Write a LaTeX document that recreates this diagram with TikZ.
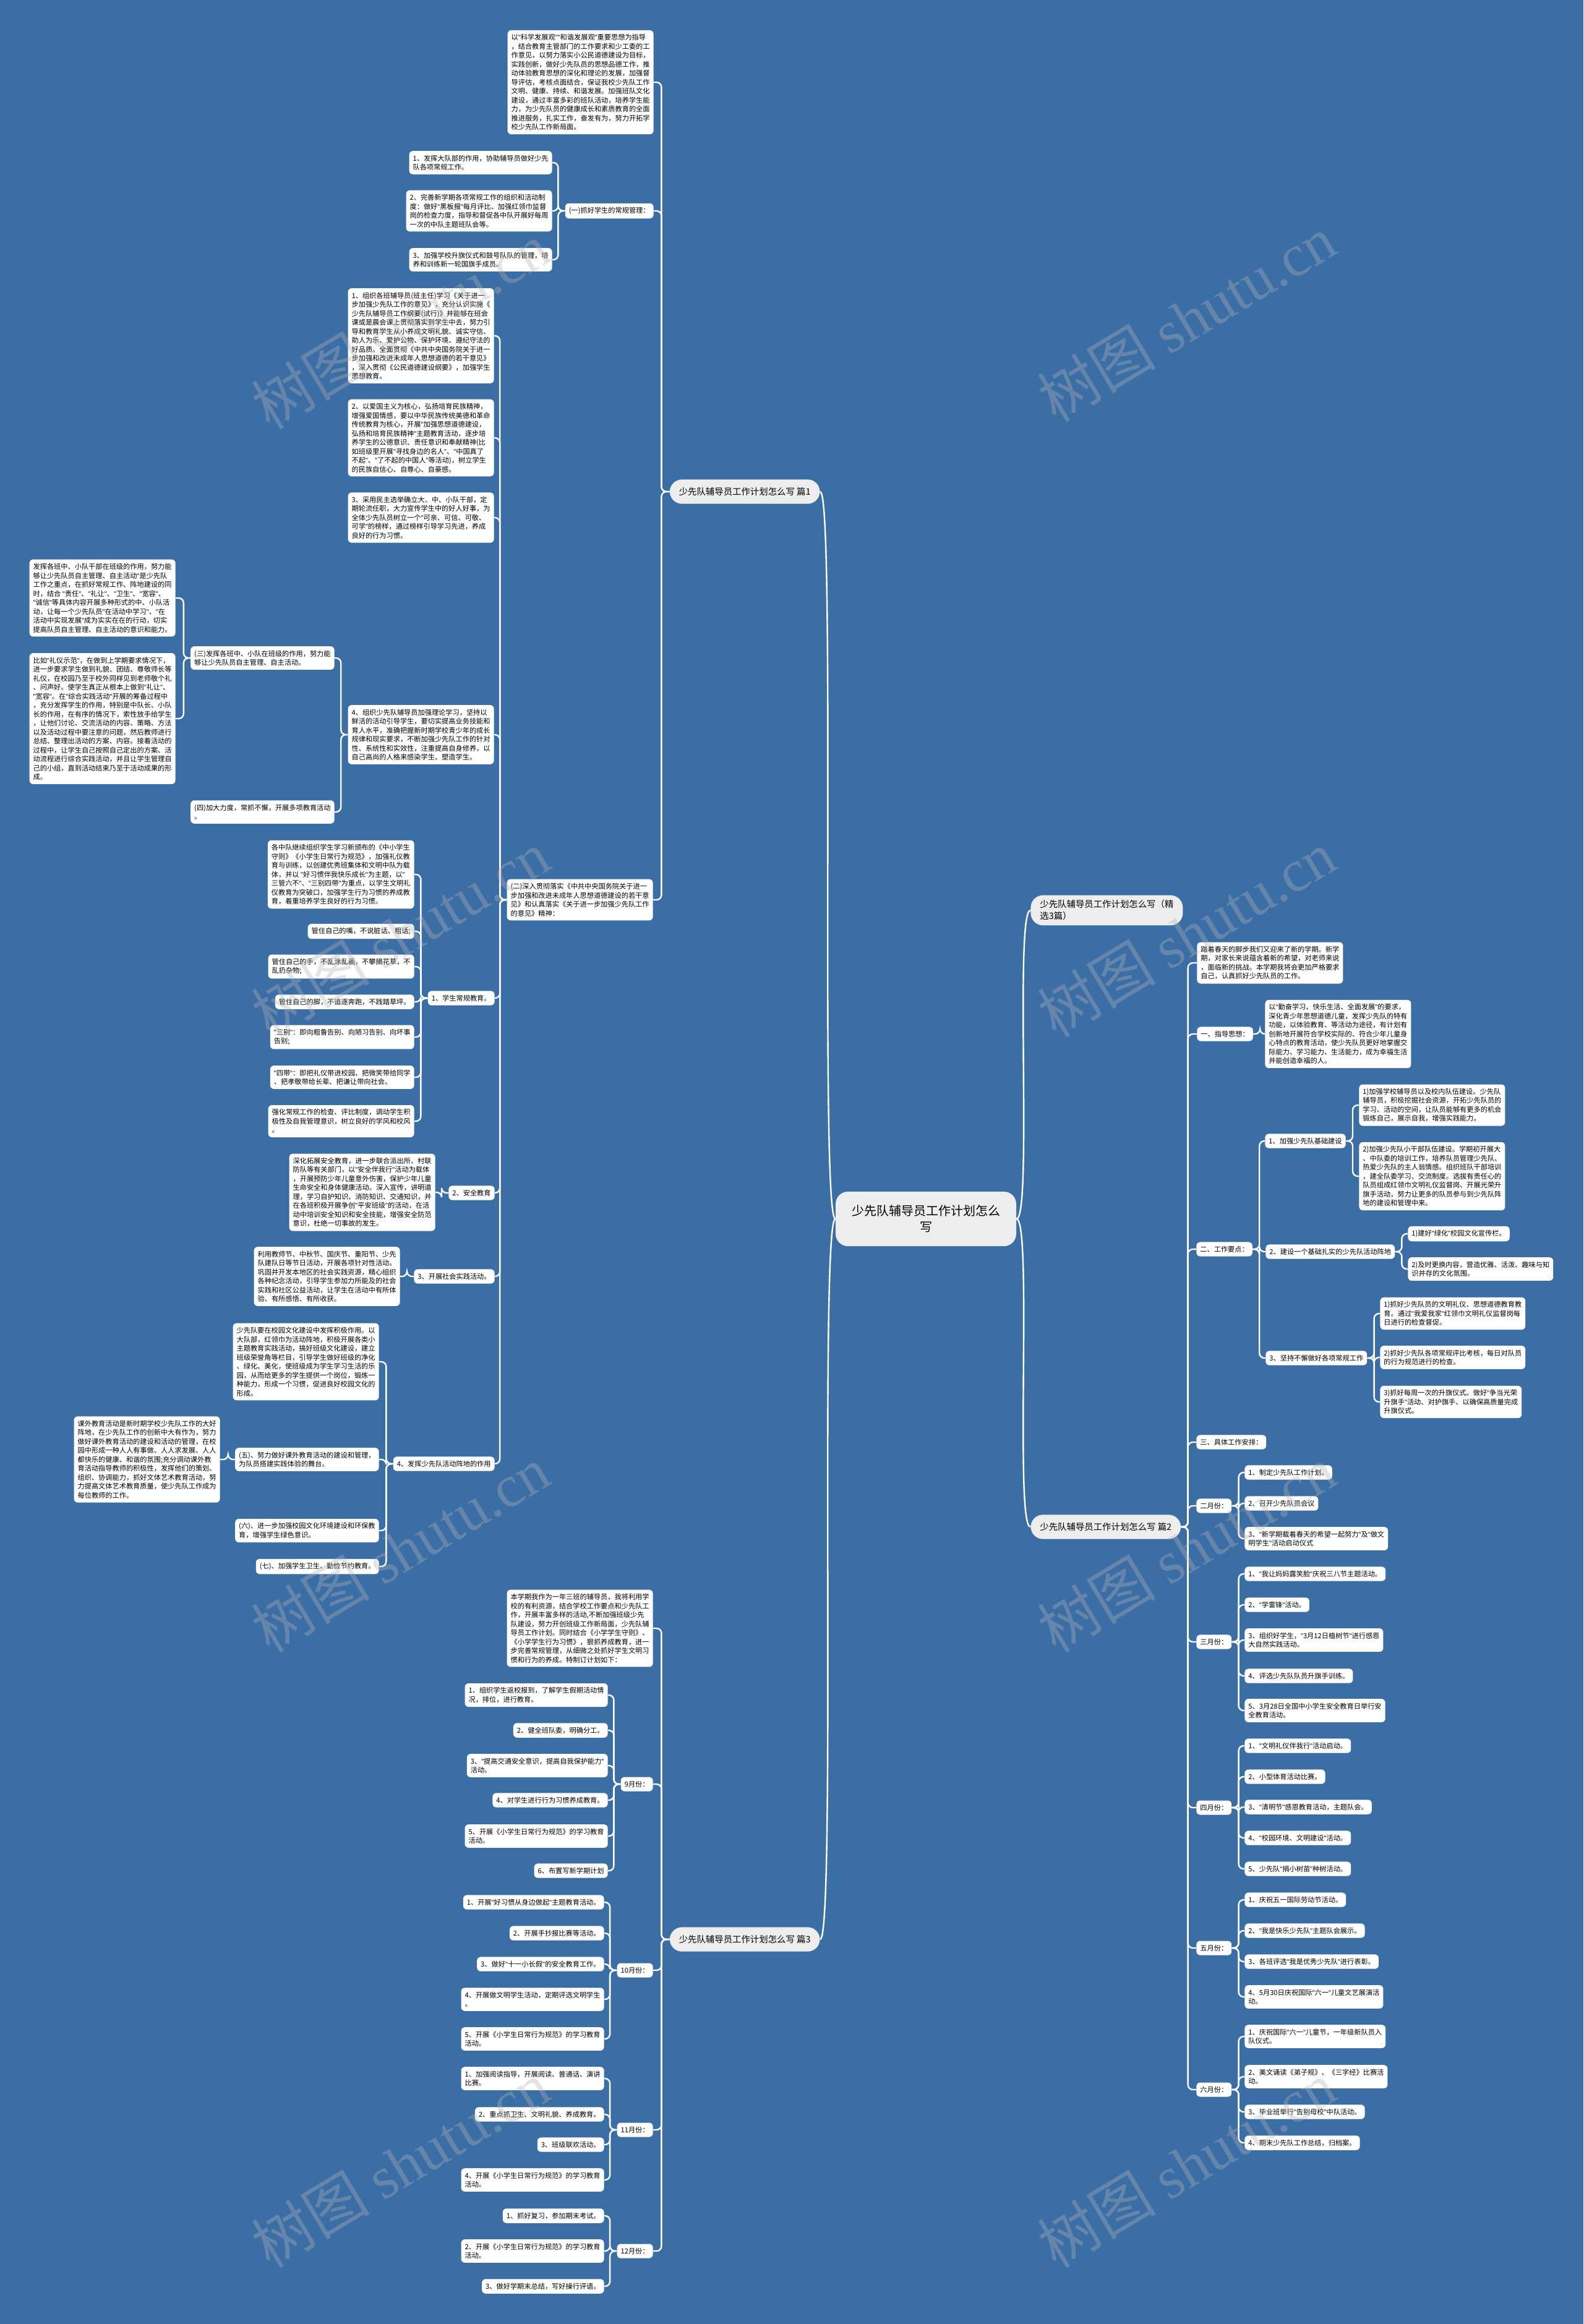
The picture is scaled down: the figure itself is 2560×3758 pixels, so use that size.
\documentclass[tikz,border=0pt]{standalone}
\usepackage{fontspec}
\setmainfont{Noto Sans CJK SC}
\newfontfamily\latinserif{Liberation Serif}
\newfontfamily\latinsans{Liberation Sans}
\usetikzlibrary{positioning,calc}
\definecolor{bgblue}{HTML}{3B6EA5}
\definecolor{topicgray}{HTML}{EDEDED}
\definecolor{markgray}{HTML}{B4B4B4}
\newcommand{\leaffont}{\fontsize{5.6pt}{7.25pt}\selectfont}
% narrow straight quotes, as in the source
\newcommand{\dq}{{\latinsans\char34}}
{\catcode`\"=\active \gdef"{\dq}}
\AtBeginDocument{\catcode`\"=\active}
\tikzset{leaf/.style={fill=white,rounded corners=3pt,inner xsep=3pt,inner ysep=3.2pt,align=left,font=\leaffont},
  lleaf/.style={leaf,anchor=east},rleaf/.style={leaf,anchor=west},
  topic/.style={fill=topicgray,rounded corners=10pt,inner xsep=7.5pt,inner ysep=6.5pt,align=left,font=\fontsize{7.2pt}{9.5pt}\selectfont},
  central/.style={fill=topicgray,rounded corners=10pt,inner xsep=13pt,inner ysep=11pt,align=center,font=\fontsize{10pt}{13pt}\selectfont},
  link/.style={draw=white,line width=1.2pt,rounded corners=4pt},
  wmark/.style={rotate=31,text=markgray,opacity=0.35,font=\fontsize{48pt}{48pt}\selectfont}}
\newcommand{\lnk}[2]{\draw[link] (#1.west) -- ++(-11,0) |- (#2.east);}
\newcommand{\rnk}[2]{\draw[link] (#1.east) -- ++(11,0) |- (#2.west);}

\begin{document}
\begin{tikzpicture}[x=0.5pt,y=-0.5pt]
\fill[bgblue] (0,0) rectangle (2560,3758);
\useasboundingbox (0,0) rectangle (2560,3758);
% Root and the four topics.
\node[central] (root) at (1497,1971) {少先队辅导员工作计划怎么\\写};
\node[topic,anchor=east] (pian1) at (1326,795) {少先队辅导员工作计划怎么写 篇1};
\node[topic,anchor=west,inner ysep=4pt] (jingxuan) at (1666,1472) {少先队辅导员工作计划怎么写（精\\选3篇）};
\node[topic,anchor=west] (pian2) at (1666,2469) {少先队辅导员工作计划怎么写 篇2};
\node[topic,anchor=east] (pian3) at (1326,3136) {少先队辅导员工作计划怎么写 篇3};
\draw[link] (root.west) .. controls +(-26,0) and +(26,0) .. (pian1.east);
\draw[link] (root.west) .. controls +(-26,0) and +(26,0) .. (pian3.east);
\draw[link] (root.east) .. controls +(26,0) and +(-26,0) .. (jingxuan.west);
\draw[link] (root.east) .. controls +(26,0) and +(-26,0) .. (pian2.west);
% Part 1: guiding idea and the first two headings.
\node[lleaf] (intro1) at (1057,133) {以"科学发展观""和谐发展观"重要思想为指导\\，结合教育主管部门的工作要求和少工委的工\\作意见，以努力落实小公民道德建设为目标，\\实践创新，做好少先队员的思想品德工作，推\\动体验教育思想的深化和理论的发展，加强督\\导评估，考核点面结合，保证我校少先队工作\\文明、健康、持续、和谐发展。加强班队文化\\建设，通过丰富多彩的班队活动，培养学生能\\力，为少先队员的健康成长和素质教育的全面\\推进服务，扎实工作，奋发有为，努力开拓学\\校少先队工作新局面。};
\node[lleaf] (sec1) at (1057,341) {(一)抓好学生的常规管理：};
\node[lleaf] (sec2) at (1056,1455) {(二)深入贯彻落实《中共中央国务院关于进一\\步加强和改进未成年人思想道德建设的若干意\\见》和认真落实《关于进一步加强少先队工作\\的意见》精神：};
\foreach \c in {intro1,sec1,sec2}{\draw[link] (pian1.west) -- ++(-13,0) |- (\c.east);}
\node[lleaf] (guan1) at (893,263) {1、发挥大队部的作用，协助辅导员做好少先\\队各项常规工作。};
\node[lleaf] (guan2) at (893,341) {2、完善新学期各项常规工作的组织和活动制\\度：做好"黑板报"每月评比、加强红领巾监督\\岗的检查力度，指导和督促各中队开展好每周\\一次的中队主题班队会等。};
\node[lleaf] (guan3) at (893,420) {3、加强学校升旗仪式和鼓号队队的管理，培\\养和训练新一轮国旗手成员。};
\foreach \c in {guan1,guan2,guan3}{\lnk{sec1}{\c}}
% Items under (二).
\node[lleaf] (shen1) at (799,543) {1、组织各班辅导员(班主任)学习《关于进一\\步加强少先队工作的意见》，充分认识实施《\\少先队辅导员工作纲要(试行)》并能够在班会\\课或是晨会课上贯彻落实到学生中去，努力引\\导和教育学生从小养成文明礼貌、诚实守信、\\助人为乐、爱护公物、保护环境、遵纪守法的\\好品质。全面贯彻《中共中央国务院关于进一\\步加强和改进未成年人思想道德的若干意见》\\，深入贯彻《公民道德建设纲要》，加强学生\\思想教育。};
\node[lleaf] (shen2) at (799,708) {2、以爱国主义为核心，弘扬培育民族精神，\\增强爱国情感，要以中华民族传统美德和革命\\传统教育为核心，开展"加强思想道德建设，\\弘扬和培育民族精神"主题教育活动，逐步培\\养学生的公德意识、责任意识和奉献精神(比\\如班级里开展"寻找身边的名人"、"中国真了\\不起"、"了不起的中国人"等活动)，树立学生\\的民族自信心、自尊心、自豪感。};
\node[lleaf] (shen3) at (799,837) {3、采用民主选举确立大、中、小队干部，定\\期轮流任职，大力宣传学生中的好人好事，为\\全体少先队员树立一个"可亲、可信、可敬、\\可学"的榜样，通过榜样引导学习先进，养成\\良好的行为习惯。};
\node[lleaf] (shen4) at (799,1188) {4、组织少先队辅导员加强理论学习，坚持以\\鲜活的活动引导学生，要切实提高业务技能和\\育人水平，准确把握新时期学校青少年的成长\\规律和现实要求，不断加强少先队工作的针对\\性、系统性和实效性，注重提高自身修养，以\\自己高尚的人格来感染学生、塑造学生。};
\node[lleaf] (edu1) at (800,1614) {1、学生常规教育。};
\node[lleaf] (edu2) at (800,1929) {2、安全教育};
\node[lleaf] (edu3) at (800,2064) {3、开展社会实践活动。};
\node[lleaf] (edu4) at (800,2367) {4、发挥少先队活动阵地的作用};
\foreach \c in {shen1,shen2,shen3,shen4,edu1,edu2,edu3,edu4}{\lnk{sec2}{\c}}
% (三) and (四), hung on item 4.
\node[lleaf] (sec3) at (541,1064) {(三)发挥各班中、小队在班级的作用，努力能\\够让少先队员自主管理、自主活动。};
\node[lleaf] (sec4) at (541,1313) {(四)加大力度，常抓不懈，开展多项教育活动\\。};
\lnk{shen4}{sec3}\lnk{shen4}{sec4}
\node[lleaf] (ban1) at (284,967) {发挥各班中、小队干部在班级的作用，努力能\\够让少先队员自主管理、自主活动"是少先队\\工作之重点，在抓好常规工作、阵地建设的同\\时，结合 "责任"、"礼让"、"卫生"、"宽容"、\\"诚信"等具体内容开展多种形式的中、小队活\\动，让每一个少先队员"在活动中学习"、"在\\活动中实现发展"成为实实在在的行动，切实\\提高队员自主管理、自主活动的意识和能力。};
\node[lleaf] (ban2) at (284,1162) {比如"礼仪示范"，在做到上学期要求情况下，\\进一步要求学生做到礼貌、团结、尊敬师长等\\礼仪，在校园乃至于校外同样见到老师敬个礼\\、问声好。使学生真正从根本上做到"礼让"、\\"宽容"。在"综合实践活动"开展的筹备过程中\\，充分发挥学生的作用，特别是中队长、小队\\长的作用，在有序的情况下，索性放手给学生\\，让他们讨论、交流活动的内容、策略、方法\\以及活动过程中要注意的问题，然后教师进行\\总结、整理出活动的方案、内容。接着活动的\\过程中，让学生自己按照自己定出的方案、活\\动流程进行综合实践活动，并且让学生管理自\\己的小组，直到活动结束乃至于活动成果的形\\成。};
\lnk{sec3}{ban1}\lnk{sec3}{ban2}
% Routine education.
\node[lleaf] (rule1) at (670,1414) {各中队继续组织学生学习新颁布的《中小学生\\守则》《小学生日常行为规范》，加强礼仪教\\育与训练，以创建优秀班集体和文明中队为载\\体，并以 "好习惯伴我快乐成长"为主题，以"\\三管六不"、"三别四带"为重点，以学生文明礼\\仪教育为突破口，加强学生行为习惯的养成教\\育，着重培养学生良好的行为习惯。};
\node[lleaf] (rule2) at (670,1506) {管住自己的嘴，不说脏话、粗话;};
\node[lleaf] (rule3) at (670,1563) {管住自己的手，不乱涂乱画，不攀摘花草，不\\乱扔杂物;};
\node[lleaf] (rule4) at (670,1620) {管住自己的脚，不追逐奔跑，不践踏草坪。};
\node[lleaf] (rule5) at (670,1677) {"三别"：即向粗鲁告别、向陋习告别、向坏事\\告别;};
\node[lleaf] (rule6) at (670,1742) {"四带"：即把礼仪带进校园、把微笑带给同学\\、把孝敬带给长辈、把谦让带向社会。};
\node[lleaf] (rule7) at (670,1813) {强化常规工作的检查、评比制度，调动学生积\\极性及自我管理意识，树立良好的学风和校风\\。};
\foreach \c in {rule1,rule2,rule3,rule4,rule5,rule6,rule7}{\lnk{edu1}{\c}}
\node[lleaf] (safe) at (704,1928) {深化拓展安全教育，进一步联合派出所、村联\\防队等有关部门，以"安全伴我行"活动为载体\\，开展预防少年儿童意外伤害，保护少年儿童\\生命安全和身体健康活动。深入宣传，讲明道\\理，学习自护知识、消防知识、交通知识，并\\在各班积极开展争创"平安班级"的活动，在活\\动中培训安全知识和安全技能，增强安全防范\\意识，杜绝一切事故的发生。};
\lnk{edu2}{safe}
\node[lleaf] (social) at (647,2064) {利用教师节、中秋节、国庆节、重阳节、少先\\队建队日等节日活动，开展各项针对性活动。\\巩固并开发本地区的社会实践资源，精心组织\\各种纪念活动，引导学生参加力所能及的社会\\实践和社区公益活动，让学生在活动中有所体\\验、有所感悟、有所收获。};
\lnk{edu3}{social}
% Activity grounds, (五) to (七).
\node[lleaf] (zhendi) at (613,2202) {少先队要在校园文化建设中发挥积极作用。以\\大队部，红领巾为活动阵地，积极开展各类小\\主题教育实践活动，搞好班级文化建设，建立\\班级荣誉角等栏目，引导学生做好班级的净化\\、绿化、美化，使班级成为学生学习生活的乐\\园，从而给更多的学生提供一个岗位，锻炼一\\种能力，形成一个习惯，促进良好校园文化的\\形成。};
\node[lleaf] (sec5) at (613,2360) {(五)、努力做好课外教育活动的建设和管理，\\为队员搭建实践体验的舞台。};
\node[lleaf] (sec6) at (613,2475) {(六)、进一步加强校园文化环境建设和环保教\\育，增强学生绿色意识。};
\node[lleaf] (sec7) at (613,2533) {(七)、加强学生卫生、勤俭节约教育。};
\foreach \c in {zhendi,sec5,sec6,sec7}{\lnk{edu4}{\c}}
\node[lleaf] (kewai) at (356,2360) {课外教育活动是新时期学校少先队工作的大好\\阵地，在少先队工作的创新中大有作为，努力\\做好课外教育活动的建设和活动的管理，在校\\园中形成一种人人有事做、人人求发展、人人\\都快乐的健康、和谐的氛围;充分调动课外教\\育活动指导教师的积极性，发挥他们的策划、\\组织、协调能力，抓好文体艺术教育活动，努\\力提高文体艺术教育质量，使少先队工作成为\\每位教师的工作。};
\lnk{sec5}{kewai}
% Part 3: the class plan, month by month.
\node[lleaf] (intro3) at (1056,2633) {本学期我作为一年三班的辅导员，我将利用学\\校的有利资源，结合学校工作要点和少先队工\\作，开展丰富多样的活动,不断加强班级少先\\队建设，努力开创班级工作新局面，少先队辅\\导员工作计划。同时结合《小学学生守则》、\\《小学学生行为习惯》，狠抓养成教育，进一\\步完善常规管理，从细微之处抓好学生文明习\\惯和行为的养成。特制订计划如下：};
\node[lleaf] (sep) at (1056,2885) {9月份：};
\node[lleaf] (oct) at (1056,3186) {10月份：};
\node[lleaf] (nov) at (1056,3444) {11月份：};
\node[lleaf] (dec) at (1056,3640) {12月份：};
\foreach \c in {intro3,sep,oct,nov,dec}{\draw[link] (pian3.west) -- ++(-13,0) |- (\c.east);}
\foreach \nm/\y/\txt in {sep1/2741/{1、组织学生返校报到，了解学生假期活动情\\况，排位，进行教育。},sep2/2798/{2、健全班队委，明确分工。},sep3/2855/{3、"提高交通安全意识，提高自我保护能力"\\活动。},sep4/2911/{4、对学生进行行为习惯养成教育。},sep5/2969/{5、开展《小学生日常行为规范》的学习教育\\活动。},sep6/3025/{6、布置写新学期计划}}{
  \node[lleaf] (\nm) at (983,\y) {\txt};\lnk{sep}{\nm}}
\foreach \nm/\y/\txt in {oct1/3076/{1、开展"好习惯从身边做起"主题教育活动。},oct2/3126/{2、开展手抄报比赛等活动。},oct3/3176/{3、做好"十一小长假"的安全教育工作。},oct4/3233/{4、开展做文明学生活动，定期评选文明学生\\。},oct5/3297/{5、开展《小学生日常行为规范》的学习教育\\活动。}}{
  \node[lleaf] (\nm) at (977,\y) {\txt};\lnk{oct}{\nm}}
\foreach \nm/\y/\txt in {nov1/3361/{1、加强阅读指导，开展阅读、普通话、演讲\\比赛。},nov2/3419/{2、重点抓卫生、文明礼貌、养成教育。},nov3/3468/{3、班级联欢活动。},nov4/3525/{4、开展《小学生日常行为规范》的学习教育\\活动。}}{
  \node[lleaf] (\nm) at (977,\y) {\txt};\lnk{nov}{\nm}}
\foreach \nm/\y/\txt in {dec1/3583/{1、抓好复习，参加期末考试。},dec2/3640/{2、开展《小学生日常行为规范》的学习教育\\活动。},dec3/3697/{3、做好学期末总结，写好操行评语。}}{
  \node[lleaf] (\nm) at (977,\y) {\txt};\lnk{dec}{\nm}}
% Part 2: guiding idea, key points, monthly arrangement.
\node[rleaf] (intro2) at (1935,1557) {踏着春天的脚步我们又迎来了新的学期。新学\\期，对家长来说蕴含着新的希望，对老师来说\\，面临新的挑战。本学期我将会更加严格要求\\自己，认真抓好少先队员的工作。};
\node[rleaf] (zhidao) at (1935,1672) {一、指导思想：};
\node[rleaf] (yaodian) at (1934,2020) {二、工作要点：};
\node[rleaf] (anpai) at (1934,2332) {三、具体工作安排：};
\node[rleaf] (feb) at (1934,2435) {二月份：};
\node[rleaf] (mar) at (1934,2655) {三月份：};
\node[rleaf] (apr) at (1934,2923) {四月份：};
\node[rleaf] (may) at (1934,3150) {五月份：};
\node[rleaf] (jun) at (1934,3379) {六月份：};
\foreach \c in {intro2,zhidao,yaodian,anpai,feb,mar,apr,may,jun}{\draw[link] (pian2.east) -- ++(11,0) |- (\c.west);}
\node[rleaf] (zhidaotxt) at (2045,1672) {以"勤奋学习、快乐生活、全面发展"的要求，\\深化青少年思想道德儿童，发挥少先队的特有\\功能，以体验教育、等活动为途径，有计划有\\创新地开展符合学校实际的、符合少年儿童身\\心特点的教育活动，使少先队员更好地掌握交\\际能力、学习能力、生活能力，成为幸福生活\\并能创造幸福的人。};
\rnk{zhidao}{zhidaotxt}
\node[rleaf] (yd1) at (2045,1845) {1、加强少先队基础建设};
\node[rleaf] (yd2) at (2046,2024) {2、建设一个基础扎实的少先队活动阵地};
\node[rleaf] (yd3) at (2046,2196) {3、坚持不懈做好各项常规工作};
\foreach \c in {yd1,yd2,yd3}{\rnk{yaodian}{\c}}
\node[rleaf] (yd1a) at (2197,1787) {1)加强学校辅导员以及校内队伍建设。少先队\\辅导员，积极挖掘社会资源，开拓少先队员的\\学习、活动的空间，让队员能够有更多的机会\\锻炼自己，展示自我，增强实践能力。};
\node[rleaf] (yd1b) at (2197,1902) {2)加强少先队小干部队伍建设。学期初开展大\\、中队委的培训工作，培养队员管理少先队、\\热爱少先队的主人翁情感。组织班队干部培训\\，建全队委学习、交流制度。选拔有责任心的\\队员组成红领巾文明礼仪监督岗、开展光荣升\\旗手活动，努力让更多的队员参与到少先队阵\\地的建设和管理中来。};
\rnk{yd1}{yd1a}\rnk{yd1}{yd1b}
\node[rleaf] (yd2a) at (2276,1995) {1)建好"绿化"校园文化宣传栏。};
\node[rleaf] (yd2b) at (2276,2052) {2)及时更换内容，营造优雅、活泼、趣味与知\\识并存的文化氛围。};
\rnk{yd2}{yd2a}\rnk{yd2}{yd2b}
\node[rleaf] (yd3a) at (2231,2124) {1)抓好少先队员的文明礼仪、思想道德教育教\\育。通过"我爱我家"红领巾文明礼仪监督岗每\\日进行的检查督促。};
\node[rleaf] (yd3b) at (2231,2195) {2)抓好少先队各项常规评比考核，每日对队员\\的行为规范进行的检查。};
\node[rleaf] (yd3c) at (2231,2267) {3)抓好每周一次的升旗仪式。做好"争当光荣\\升旗手"活动、对护旗手、以确保高质量完成\\升旗仪式。};
\foreach \c in {yd3a,yd3b,yd3c}{\rnk{yd3}{\c}}
\foreach \nm/\y/\txt in {feb1/2381/{1、制定少先队工作计划。},feb2/2431/{2、召开少先队员会议},feb3/2488/{3、"新学期载着春天的希望一起努力"及"做文\\明学生"活动启动仪式}}{
  \node[rleaf] (\nm) at (2012,\y) {\txt};\rnk{feb}{\nm}}
\foreach \nm/\y/\txt in {mar1/2545/{1、"我让妈妈露笑脸"庆祝三八节主题活动。},mar2/2595/{2、"学雷锋"活动。},mar3/2652/{3、组织好学生，"3月12日植树节"进行感恩\\大自然实践活动。},mar4/2710/{4、评选少先队队员升旗手训练。},mar5/2766/{5、3月28日全国中小学生安全教育日举行安\\全教育活动。}}{
  \node[rleaf] (\nm) at (2012,\y) {\txt};\rnk{mar}{\nm}}
\foreach \nm/\y/\txt in {apr1/2823/{1、"文明礼仪伴我行"活动启动。},apr2/2873/{2、小型体育活动比赛。},apr3/2922/{3、"清明节"感恩教育活动，主题队会。},apr4/2972/{4、"校园环境、文明建设"活动。},apr5/3022/{5、少先队"捐小树苗"种树活动。}}{
  \node[rleaf] (\nm) at (2012,\y) {\txt};\rnk{apr}{\nm}}
\foreach \nm/\y/\txt in {may1/3072/{1、庆祝五一国际劳动节活动。},may2/3122/{2、"我是快乐少先队"主题队会展示。},may3/3172/{3、各班评选"我是优秀少先队"进行表彰。},may4/3229/{4、5月30日庆祝国际"六一"儿童文艺展演活\\动。}}{
  \node[rleaf] (\nm) at (2012,\y) {\txt};\rnk{may}{\nm}}
\foreach \nm/\y/\txt in {jun1/3293/{1、庆祝国际"六一"儿童节，一年级新队员入\\队仪式。},jun2/3358/{2、美文诵读《弟子规》、《三字经》比赛活\\动。},jun3/3415/{3、毕业班举行"告别母校"中队活动。},jun4/3465/{4、期末少先队工作总结，归档案。}}{
  \node[rleaf] (\nm) at (2012,\y) {\txt};\rnk{jun}{\nm}}
% Watermarks.
\foreach \wx/\wy in {647/527,1918/515,647/1510,1918/1510,647/2505,1918/2505,647/3500,1918/3500}
  \node[wmark] at (\wx,\wy) {树图 {\latinserif shutu.cn}};
\end{tikzpicture}
\end{document}
